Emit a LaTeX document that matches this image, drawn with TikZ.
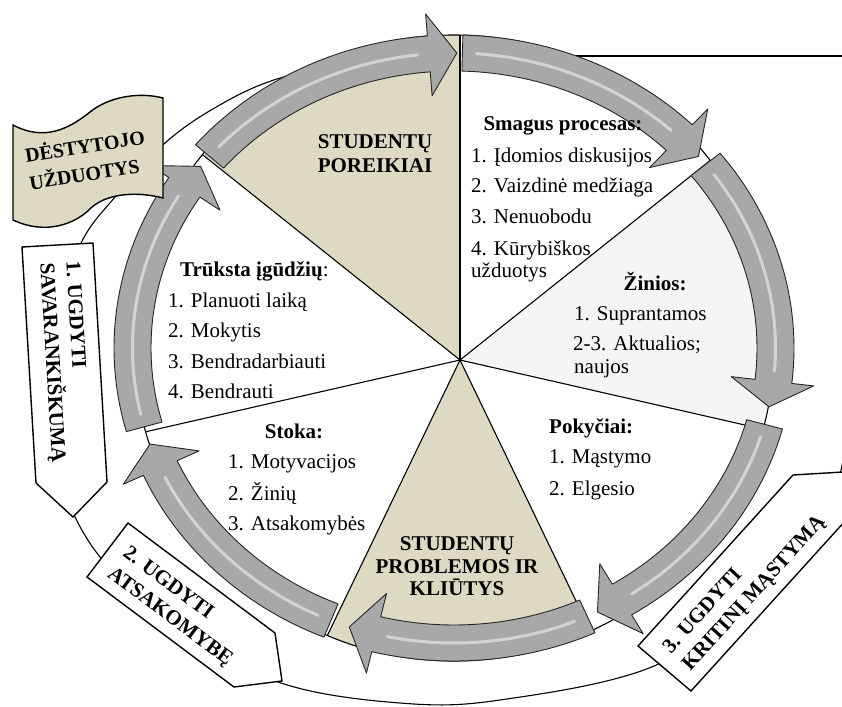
\documentclass[tikz,border=0pt]{standalone}
\usepackage{fontspec}
\setmainfont{Liberation Serif}
\definecolor{tanfill}{RGB}{221,217,195}
\definecolor{arrgray}{RGB}{168,168,168}
\definecolor{lightslice}{RGB}{245,245,245}
\tikzset{
  arrowbody/.style={fill=arrgray, draw=black!85, line width=0.9pt, line join=round},
  gloss/.style={white, opacity=0.5, line width=3pt, line cap=round},
  pieline/.style={draw=black, line width=1.1pt},
  boxshape/.style={fill=white, draw=black, line width=1.4pt, line join=miter},
  flagshape/.style={fill=tanfill, draw=black, line width=1.4pt},
  outercurve/.style={draw=black, line width=1.1pt},
  txt/.style={font=\fontsize{21}{24}\selectfont, inner sep=0pt, anchor=base west},
  ttl/.style={font=\bfseries\fontsize{21}{24}\selectfont, inner sep=0pt, anchor=base},
  ttlw/.style={font=\bfseries\fontsize{21}{24}\selectfont, inner sep=0pt, anchor=base west},
  boxtxt/.style={font=\bfseries\fontsize{21}{26}\selectfont, inner sep=0pt, align=left, anchor=west},
}
\newcommand{\ringarrow}[2]{%
  \pgfmathsetmacro{\hb}{#2+5}%
  \path[arrowbody] plot[domain=#1:\hb,samples=40] ({454+340*cos(\x)},{348-313*sin(\x)})
    -- ({454+362*cos(\hb)},{348-335*sin(\hb)})
    -- ({454+321.5*cos(#2)},{348-295*sin(#2)})
    -- ({454+279*cos(\hb)},{348-253*sin(\hb)})
    -- plot[domain=\hb:#1,samples=40] ({454+303*cos(\x)},{348-277*sin(\x)})
    -- cycle;
  \pgfmathsetmacro{\ta}{#1-2.5}%
  \pgfmathsetmacro{\tb}{#2+7}%
  \draw[gloss] plot[domain=\ta:\tb,samples=30] ({454+321.5*cos(\x)},{348-295*sin(\x)});
}
\begin{document}
\begin{tikzpicture}[x=1pt,y=-1pt]
\useasboundingbox (0,0) rectangle (842,706);
\clip (0,0) rectangle (842,706);
\fill[white] (0,0) rectangle (842,706);

% outer thin curve
\draw[outercurve] (860,56) -- (440,56);
\draw[outercurve] plot[smooth,tension=0.6] coordinates {(440,56) (360,61) (277,79) (218,106) (165,143) (115,197) (80,245) (50,330) (44,400) (60,480) (100,557) (180,630) (281,683) (400,703) (500,700) (654,666) (760,590) (822,520) (841,470) (848,420)};

% pie
\begin{scope}
\clip (454,348) ellipse [x radius=320pt, y radius=313pt];
\foreach \a/\b/\c in {90/141.43/tanfill, 38.57/90/white, -12.86/38.57/lightslice, -64.29/-12.86/white, -115.71/-64.29/tanfill, -167.14/-115.71/white, 141.43/192.86/white}
  \fill[\c] (460,360) -- ({460+700*cos(\a)},{360-700*sin(\a)}) -- ({460+700*cos((\a+\b)/2)},{360-700*sin((\a+\b)/2)}) -- ({460+700*cos(\b)},{360-700*sin(\b)}) -- cycle;
\foreach \a in {90,141.43,192.86,244.29,295.71,347.14,38.57}
  \draw[pieline] (460,360) -- ({460+700*cos(\a)},{360-700*sin(\a)});
\end{scope}
\draw[pieline] (454,348) ellipse [x radius=320pt, y radius=313pt];

% ring of arrows
\ringarrow{139.5}{89.5}
\ringarrow{88.5}{40.5}
\ringarrow{38.5}{-11.5}
\ringarrow{-15}{-63.5}
\ringarrow{-65.5}{-109}
\ringarrow{-112.5}{-161}
\ringarrow{195.5}{142}

% pie texts
\node[ttl] (spt1) at (375,148) {STUDENTŲ};
\node[ttl] (spt2) at (375,172) {POREIKIAI};

\node[ttl] (sm0) at (563,130) {Smagus procesas:};
\node[txt] (sm1) at (471,162) {1. Įdomios diskusijos};
\node[txt] (sm2) at (471,192) {2. Vaizdinė medžiaga};
\node[txt] (sm3) at (471,223) {3. Nenuobodu};
\node[txt] (sm4) at (471,255) {4. Kūrybiškos};
\node[txt] (sm5) at (471,277) {užduotys};

\node[ttl] (zi0) at (655,290) {Žinios:};
\node[txt] (zi1) at (574,320) {1. Suprantamos};
\node[txt] (zi2) at (573,350) {2-3. Aktualios;};
\node[txt] (zi3) at (574,373) {naujos};

\node[ttlw] (po0) at (549,433) {Pokyčiai:};
\node[txt] (po1) at (549,463) {1. Mąstymo};
\node[txt] (po2) at (549,495) {2. Elgesio};

\node[ttl] (pr1) at (457,550) {STUDENTŲ};
\node[ttl] (pr2) at (457,573) {PROBLEMOS IR};
\node[ttl] (pr3) at (457,595) {KLIŪTYS};

\node[ttl] (st0) at (294,438) {Stoka:};
\node[txt] (st1) at (228,468) {1. Motyvacijos};
\node[txt] (st2) at (228,500) {2. Žinių};
\node[txt] (st3) at (228,530) {3. Atsakomybės};

\node[txt] (tr0) at (180,276) {\textbf{Trūksta įgūdžių}:};
\node[txt] (tr1) at (168,307) {1. Planuoti laiką};
\node[txt] (tr2) at (168,337) {2. Mokytis};
\node[txt] (tr3) at (168,368) {3. Bendradarbiauti};
\node[txt] (tr4) at (168,398) {4. Bendrauti};

% flag
\draw[flagshape] (13,125) .. controls (45,142) and (70,128) .. (90,112) .. controls (110,96) and (140,92) .. (163,98) -- (163,198) .. controls (140,192) and (110,192) .. (92,207) .. controls (75,225) and (45,235) .. (13,220) -- cycle;
\node[boxtxt, font=\bfseries\fontsize{20}{28}\selectfont, rotate=9] (dest) at (27,168) {DĖSTYTOJO\\UŽDUOTYS};

% boxes
\draw[boxshape] (22,247) -- (93,243) -- (107,482) -- (73,517) -- (36,483) -- cycle;
\node[boxtxt, rotate=-86.6] (b1t) at (58,262) {1. UGDYTI\\SAVARANKIŠKUMĄ};

\draw[boxshape] (128,523) -- (275,633) -- (282,681) -- (234,687) -- (87,577) -- cycle;
\node[boxtxt, rotate=-36.8] (b2t) at (117,562) {2. UGDYTI\\ATSAKOMYBĘ};

\draw[boxshape] (638,646) -- (793,475) -- (843,472) -- (846,520) -- (691,691) -- cycle;
\node[boxtxt, rotate=47.8] (b3t) at (677,660) {3. UGDYTI\\KRITINĮ MĄSTYMĄ};
\end{tikzpicture}
\end{document}
